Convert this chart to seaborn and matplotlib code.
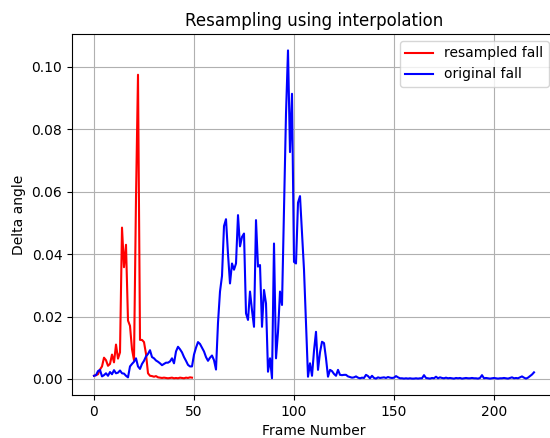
import matplotlib
matplotlib.use("Agg")
import matplotlib.pyplot as plt
import numpy as np
import seaborn as sns

# resampled fall (50 frames)
resampled = [0.0010, 0.0012, 0.0015, 0.0030, 0.0040, 0.0068, 0.0060, 0.0042, 0.0048, 0.0078,
             0.0053, 0.0110, 0.0065, 0.0085, 0.0485, 0.0358, 0.0430, 0.0187, 0.0170, 0.0095,
             0.0060, 0.0580, 0.0975, 0.0125, 0.0125, 0.0118, 0.0080, 0.0018, 0.0010, 0.0009,
             0.0007, 0.0009, 0.0005, 0.0004, 0.0003, 0.0004, 0.0003, 0.0002, 0.0003, 0.0004,
             0.0002, 0.0003, 0.0002, 0.0004, 0.0003, 0.0002, 0.0004, 0.0003, 0.0005, 0.0004]

# original fall (221 frames)
original = [0.0010, 0.0012, 0.0025, 0.0029, 0.0008, 0.0012, 0.0018, 0.0010, 0.0022, 0.0015,
            0.0028, 0.0018, 0.0020, 0.0027, 0.0018, 0.0017, 0.0010, 0.0005, 0.0040, 0.0048,
            0.0055, 0.0066, 0.0040, 0.0032, 0.0048, 0.0058, 0.0072, 0.0080, 0.0092, 0.0070,
            0.0066, 0.0059, 0.0055, 0.0050, 0.0044, 0.0048, 0.0052, 0.0052, 0.0056, 0.0066,
            0.0050, 0.0088, 0.0103, 0.0095, 0.0085, 0.0070, 0.0058, 0.0045, 0.0040, 0.0040,
            0.0078, 0.0100, 0.0118, 0.0112, 0.0100, 0.0088, 0.0070, 0.0058, 0.0068, 0.0075,
            0.0060, 0.0030, 0.0180, 0.0280, 0.0330, 0.0490, 0.0512, 0.0400, 0.0306, 0.0370,
            0.0350, 0.0370, 0.0525, 0.0425, 0.0455, 0.0466, 0.0210, 0.0189, 0.0280, 0.0220,
            0.0167, 0.0509, 0.0360, 0.0365, 0.0167, 0.0285, 0.0242, 0.0023, 0.0066, 0.0002,
            0.0434, 0.0066, 0.0150, 0.0280, 0.0237, 0.0550, 0.0850, 0.1053, 0.0727, 0.0914,
            0.0375, 0.0370, 0.0565, 0.0586, 0.0470, 0.0350, 0.0180, 0.0007, 0.0050, 0.0010,
            0.0090, 0.0151, 0.0029, 0.0085, 0.0119, 0.0115, 0.0066, 0.0007, 0.0029, 0.0025,
            0.0016, 0.0010, 0.0029, 0.0013, 0.0012, 0.0013, 0.0013, 0.0008, 0.0006, 0.0004,
            0.0005, 0.0008, 0.0004, 0.0002, 0.0004, 0.0003, 0.0013, 0.0009, 0.0002, 0.0010,
            0.0003, 0.0001, 0.0005, 0.0003, 0.0004, 0.0005, 0.0003, 0.0006, 0.0004, 0.0003,
            0.0004, 0.0009, 0.0005, 0.0002, 0.0002, 0.0001, 0.0002, 0.0001, 0.0002, 0.0001,
            0.0001, 0.0002, 0.0001, 0.0002, 0.0002, 0.0012, 0.0003, 0.0002, 0.0001, 0.0003,
            0.0002, 0.0007, 0.0002, 0.0005, 0.0003, 0.0002, 0.0004, 0.0002, 0.0003, 0.0002,
            0.0001, 0.0003, 0.0002, 0.0003, 0.0001, 0.0002, 0.0003, 0.0002, 0.0002, 0.0003,
            0.0002, 0.0002, 0.0001, 0.0003, 0.0012, 0.0002, 0.0003, 0.0002, 0.0001, 0.0002,
            0.0003, 0.0002, 0.0001, 0.0002, 0.0002, 0.0003, 0.0002, 0.0001, 0.0003, 0.0005,
            0.0002, 0.0003, 0.0002, 0.0005, 0.0008, 0.0004, 0.0001, 0.0004, 0.0009, 0.0014,
            0.0021]

fig = plt.figure(figsize=(5.5, 4.38), dpi=100)
ax = fig.add_axes([72 / 550, 43 / 438, 484 / 550, 361 / 438])

sns.lineplot(x=np.arange(len(resampled)), y=resampled, color="red", label="resampled fall", ax=ax)
sns.lineplot(x=np.arange(len(original)), y=original, color="blue", label="original fall", ax=ax)

ax.grid(True)
ax.set_title("Resampling using interpolation")
ax.set_xlabel("Frame Number")
ax.set_ylabel("Delta angle")
ax.legend(loc="upper right")

fig.savefig("out.png", dpi=100)
